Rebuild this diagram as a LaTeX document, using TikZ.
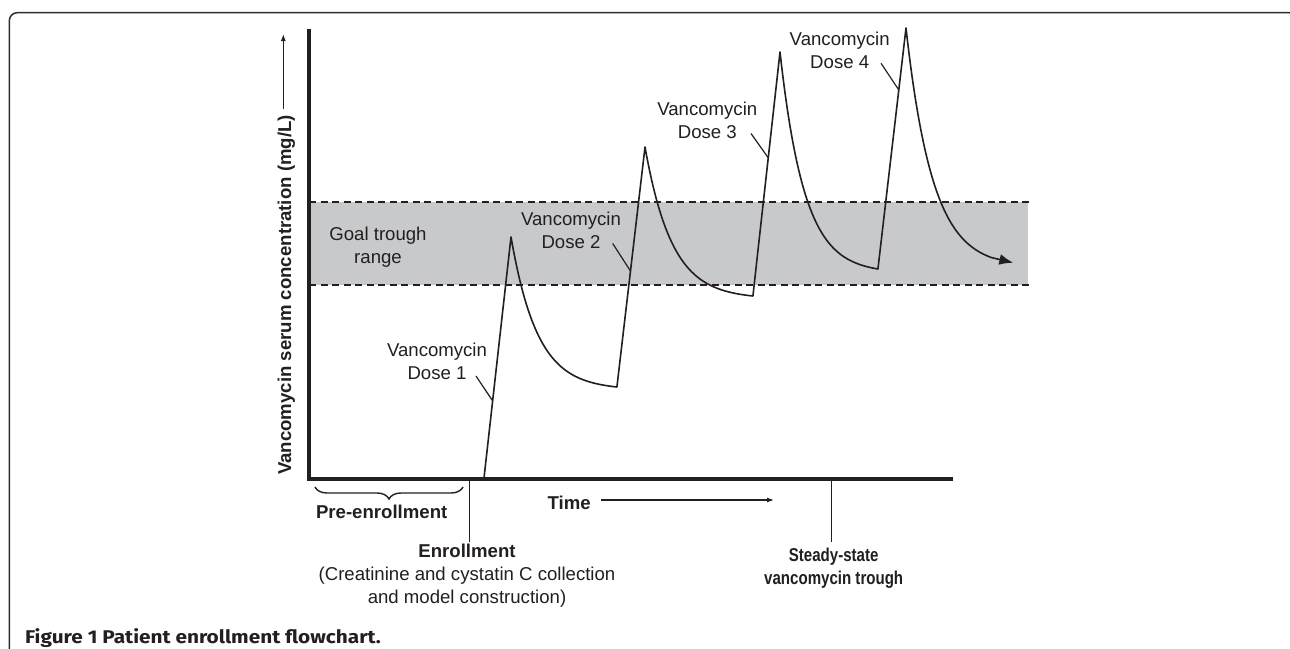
\documentclass[tikz,border=0pt]{standalone}
\usepackage{graphicx}
\usepackage{fontspec}
\setmainfont{Liberation Sans}
\newfontfamily\capfont{Fira Sans}
\usetikzlibrary{arrows.meta,decorations.pathreplacing,calc}
\definecolor{ink}{RGB}{35,31,32}
\definecolor{bandgray}{RGB}{200,201,203}
\definecolor{framegray}{RGB}{45,45,45}
\begin{document}
\begin{tikzpicture}[x=1pt,y=-1pt,
  lbl/.style={font=\fontsize{18.6}{22.7}\selectfont, text=ink, inner sep=0pt, align=center},
  blbl/.style={font=\fontsize{18.6}{22.7}\selectfont\bfseries, text=ink, inner sep=0pt, align=center},
  axisline/.style={draw=ink, line width=4pt, line join=miter},
  curve/.style={draw=ink, line width=1.6pt, line join=round},
  pointer/.style={draw=ink, line width=1.2pt},
  tickline/.style={draw=ink, line width=1.6pt},
  bandedge/.style={draw=ink, line width=1.2pt, dash pattern=on 7pt off 4.5pt},
  thinarrow/.style={draw=ink, line width=1.2pt, -{Latex[length=7pt,width=5pt]}},
]
\useasboundingbox (0,0) rectangle (1290,648);
\fill[white] (0,0) rectangle (1290,648);
% frame
\draw[framegray, line width=1.5pt, rounded corners=8pt] (9.3,680) -- (9.3,12.7) -- (1297,12.7) -- (1297,80);

% goal band
\fill[bandgray] (309,202) rectangle (1028,285);
\coordinate (bandTL) at (309,202);
\coordinate (bandTR) at (1029,202);
\coordinate (bandBL) at (309,285);
\coordinate (bandBR) at (1029,285);
\draw[bandedge] (bandTL) -- (bandTR);
\draw[bandedge] (bandBL) -- (bandBR);

% concentration curve
\coordinate (s0) at (484,478);
\coordinate (p1) at (511,237);
\coordinate (t1) at (617,387);
\coordinate (p2) at (645,147);
\coordinate (t2) at (753,296);
\coordinate (p3) at (780,52);
\coordinate (t3) at (878,269);
\coordinate (p4) at (906,28);
\coordinate (cend) at (1013.3,262.7);
\draw[curve, -{Latex[length=14pt,width=11pt]}] (s0) -- (p1)
  -- plot[domain=0:1,samples=70] ({511+106*\x},{237+150*(1-exp(-4*\x))/(1-exp(-4))})
  -- (p2)
  -- plot[domain=0:1,samples=70] ({645+108*\x},{147+149*(1-exp(-4*\x))/(1-exp(-4))})
  -- (p3)
  -- plot[domain=0:1,samples=70] ({780+98*\x},{52+217*(1-exp(-4*\x))/(1-exp(-4))})
  -- (p4)
  -- plot[domain=0:0.8,samples=60] ({906+107*\x},{28+235*(1-exp(-4*\x))/(1-exp(-4))})
  -- (cend);

% axes
\coordinate (ytop) at (309,29);
\coordinate (origin) at (309,478.7);
\coordinate (xend) at (953,478.7);
\draw[axisline] (ytop) -- (origin) -- (xend);

% y label
\node[blbl, rotate=90, anchor=base west] (ylab) at (291,475) {Vancomycin serum concentration (mg/L)};
\coordinate (yarr0) at (283.3,109);
\coordinate (yarr1) at (283.3,34);
\draw[thinarrow] (yarr0) -- (yarr1);

% goal label
\node[lbl, anchor=north] (goal) at (378,227) {Goal trough\\range};

% dose labels
\node[lbl, anchor=north] (d1) at (437,342.7) {Vancomycin\\Dose 1};
\node[lbl, anchor=north] (d2) at (571,212) {Vancomycin\\Dose 2};
\node[lbl, anchor=north] (d3) at (707.3,101.7) {Vancomycin\\Dose 3};
\node[lbl, anchor=north] (d4) at (839.7,31.7) {Vancomycin\\Dose 4};
\coordinate (d1a) at (476,376);
\coordinate (d1b) at ($(s0)!0.32!(p1)$);
\coordinate (d2a) at (612.7,243.5);
\coordinate (d2b) at ($(t1)!0.483!(p2)$);
\coordinate (d3a) at (751,133.5);
\coordinate (d3b) at ($(t2)!0.566!(p3)$);
\coordinate (d4a) at (881,63.3);
\coordinate (d4b) at ($(t3)!0.743!(p4)$);
\draw[pointer] (d1a) -- (d1b);
\draw[pointer] (d2a) -- (d2b);
\draw[pointer] (d3a) -- (d3b);
\draw[pointer] (d4a) -- (d4b);

% time
\node[blbl, anchor=north] (time) at (569.2,495.7) {Time};
\coordinate (tarr0) at (601,500);
\coordinate (tarr1) at (774,500);
\draw[thinarrow] (tarr0) -- (tarr1);

% pre-enrollment brace
\coordinate (brL) at (315,487);
\coordinate (brR) at (463,487);
\draw[ink, line width=1.4pt, decorate, decoration={brace, mirror, amplitude=12pt}] (brL) -- (brR);
\node[blbl, anchor=north] (pre) at (381.7,505) {Pre-enrollment};

% enrollment tick
\coordinate (enrT) at (469.3,478.7);
\coordinate (enrB) at (469.3,541.7);
\draw[tickline] (enrT) -- (enrB);
\node[lbl, anchor=north] (enr) at (467,544) {\textbf{Enrollment}\\(Creatinine and cystatin C collection\\and model construction)};

% steady-state tick
\coordinate (ssT) at (831.3,478.7);
\coordinate (ssB) at (831.3,541.7);
\draw[tickline] (ssT) -- (ssB);
\node[blbl, anchor=north] (ss) at (833.7,548) {\scalebox{0.81}[1]{Steady-state}\\\scalebox{0.81}[1]{vancomycin trough}};

% caption
\node[anchor=base west, inner sep=0pt, text=ink, font=\capfont\bfseries\fontsize{18.4}{20}\selectfont] (cap) at (25,643.5) {\scalebox{1.13}[1]{Figure 1 Patient enrollment flowchart.}};
\end{tikzpicture}
\end{document}
